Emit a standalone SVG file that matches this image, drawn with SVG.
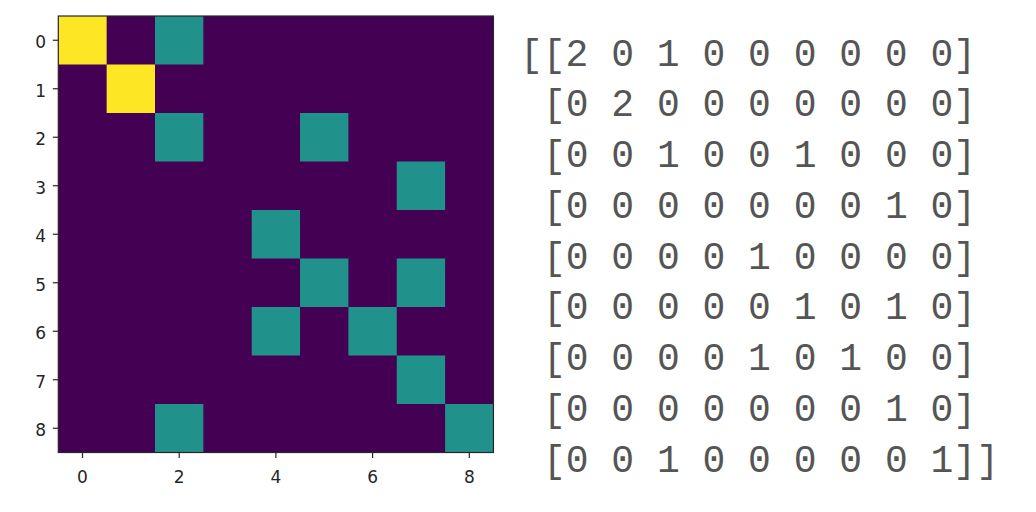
<svg xmlns="http://www.w3.org/2000/svg" width="1036" height="512" viewBox="0 0 1036 512">
<style>
.v0{fill:#440154}
.v1{fill:#21918c}
.v2{fill:#fde725}
.tick{stroke:#262626;stroke-width:1.2}
.tl{font-family:"DejaVu Sans",sans-serif;font-size:17px;fill:#262626}
.yl{text-anchor:end}
.xl{text-anchor:middle}
.mx{font-family:"Liberation Mono","DejaVu Sans Mono",monospace;font-size:38px;fill:#555555}
</style>
<rect width="1036" height="512" fill="#ffffff"/>
<g id="heatmap">
<g transform="translate(58.3,16) scale(48.35,48.5)">
<rect class="v0" x="0" y="0" width="9" height="9"/>
<rect class="v2" x="0" y="0" width="1" height="1"/>
<rect class="v1" x="2" y="0" width="1" height="1"/>
<rect class="v2" x="1" y="1" width="1" height="1"/>
<rect class="v1" x="2" y="2" width="1" height="1"/>
<rect class="v1" x="5" y="2" width="1" height="1"/>
<rect class="v1" x="7" y="3" width="1" height="1"/>
<rect class="v1" x="4" y="4" width="1" height="1"/>
<rect class="v1" x="5" y="5" width="1" height="1"/>
<rect class="v1" x="7" y="5" width="1" height="1"/>
<rect class="v1" x="4" y="6" width="1" height="1"/>
<rect class="v1" x="6" y="6" width="1" height="1"/>
<rect class="v1" x="7" y="7" width="1" height="1"/>
<rect class="v1" x="2" y="8" width="1" height="1"/>
<rect class="v1" x="8" y="8" width="1" height="1"/>
</g>
<rect x="58.3" y="16" width="435.15" height="436.5" fill="none" stroke="#262626" stroke-width="1.2"/>
</g>
<g id="y-axis">
<g class="tick">
<line x1="52.8" y1="40.25" x2="58.3" y2="40.25"/>
<line x1="52.8" y1="88.75" x2="58.3" y2="88.75"/>
<line x1="52.8" y1="137.25" x2="58.3" y2="137.25"/>
<line x1="52.8" y1="185.75" x2="58.3" y2="185.75"/>
<line x1="52.8" y1="234.25" x2="58.3" y2="234.25"/>
<line x1="52.8" y1="282.75" x2="58.3" y2="282.75"/>
<line x1="52.8" y1="331.25" x2="58.3" y2="331.25"/>
<line x1="52.8" y1="379.75" x2="58.3" y2="379.75"/>
<line x1="52.8" y1="428.25" x2="58.3" y2="428.25"/>
</g>
<text class="tl yl" x="46" y="48.25">0</text>
<text class="tl yl" x="46" y="96.75">1</text>
<text class="tl yl" x="46" y="145.25">2</text>
<text class="tl yl" x="46" y="193.75">3</text>
<text class="tl yl" x="46" y="242.25">4</text>
<text class="tl yl" x="46" y="290.75">5</text>
<text class="tl yl" x="46" y="339.25">6</text>
<text class="tl yl" x="46" y="387.75">7</text>
<text class="tl yl" x="46" y="436.25">8</text>
</g>
<g id="x-axis">
<g class="tick">
<line x1="82.5" y1="452.5" x2="82.5" y2="458"/>
<line x1="179.2" y1="452.5" x2="179.2" y2="458"/>
<line x1="275.9" y1="452.5" x2="275.9" y2="458"/>
<line x1="372.6" y1="452.5" x2="372.6" y2="458"/>
<line x1="469.3" y1="452.5" x2="469.3" y2="458"/>
</g>
<text class="tl xl" x="82.5" y="483">0</text>
<text class="tl xl" x="179.2" y="483">2</text>
<text class="tl xl" x="275.9" y="483">4</text>
<text class="tl xl" x="372.6" y="483">6</text>
<text class="tl xl" x="469.3" y="483">8</text>
</g>
<g id="matrix">
<text class="mx" x="520" y="65.5">[[2 0 1 0 0 0 0 0 0]</text>
<text class="mx" x="542.9" y="116.25">[0 2 0 0 0 0 0 0 0]</text>
<text class="mx" x="542.9" y="167">[0 0 1 0 0 1 0 0 0]</text>
<text class="mx" x="542.9" y="217.75">[0 0 0 0 0 0 0 1 0]</text>
<text class="mx" x="542.9" y="268.5">[0 0 0 0 1 0 0 0 0]</text>
<text class="mx" x="542.9" y="319.25">[0 0 0 0 0 1 0 1 0]</text>
<text class="mx" x="542.9" y="370">[0 0 0 0 1 0 1 0 0]</text>
<text class="mx" x="542.9" y="420.75">[0 0 0 0 0 0 0 1 0]</text>
<text class="mx" x="542.9" y="471.5">[0 0 1 0 0 0 0 0 1]]</text>
</g>
</svg>
